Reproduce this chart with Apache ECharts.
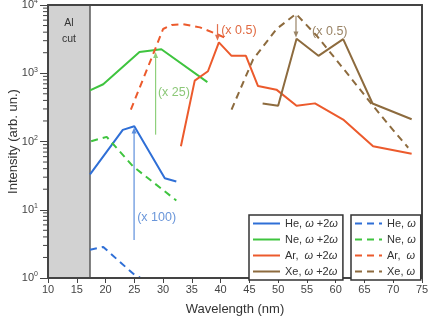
<!DOCTYPE html>
<html><head><meta charset="utf-8">
<script src="https://cdn.jsdelivr.net/npm/echarts@6/dist/echarts.min.js"></script>
<style>html,body{margin:0;padding:0;background:#fff}#c{width:431px;height:326px}</style>
</head><body><div id="c"></div>
<script>
// ---- data ----
const heBothX = [17.3, 23.0, 25.0, 30.3, 32.3];
const heBothY = [33, 148, 167, 29, 26];
const heOmX = [17.3, 19.6, 23.9, 25.1, 26.0];
const heOmY = [2.6, 2.85, 1.35, 1.1, 1.02];
const neBothX = [17.3, 19.6, 25.9, 29.7, 37.7];
const neBothY = [560, 690, 2050, 2250, 740];
const neOmX = [17.5, 20.2, 24.8, 32.3];
const neOmY = [101, 117, 43, 13.7];
const arBothX = [33.1, 35.5, 37.8, 39.7, 41.9, 44.4, 46.5, 49.7, 53.2, 56.4, 61.3, 66.5, 73.2];
const arBothY = [85, 780, 1070, 2830, 1800, 1800, 650, 575, 333, 362, 210, 85, 66];
const arOmX = [24.4, 28.85, 30.0, 31.5, 33.5, 36.4, 39.3, 41.3];
const arOmY = [294, 2520, 4450, 5100, 5240, 4700, 3760, 3160];
const xeBothX = [47.3, 50.0, 53.2, 57.0, 61.3, 66.4, 73.2];
const xeBothY = [360, 333, 3200, 1800, 3160, 360, 212];
const xeOmX = [41.9, 45.65, 49.7, 53.1, 56.7, 61.9, 66.5, 69.4, 72.6];
const xeOmY = [294, 1600, 4440, 7400, 3550, 1020, 333, 168, 81];

const alCut = [10, 17.3];
const xTicks = [10, 15, 20, 25, 30, 35, 40, 45, 50, 55, 60, 65, 70, 75];
const yDecades = [0, 1, 2, 3, 4];

const arrowX = [24.96, 28.7, 39.46, 53.1];
const arrowFrom = [3.6, 126, 5250, 6950];
const arrowTo = [161, 2040, 2990, 3350];
const noteText = ['(x 100)', '(x 25)', '(x 0.5)', '(x 0.5)'];
const noteX = [25.5, 29.1, 40.1, 55.9];
const noteY = [7.6, 525, 4270, 4150];

// ---- styles ----
const FONT = 'Liberation Sans, Arial, sans-serif';
const C = {he:'#2f6fd6', ne:'#3fc43f', ar:'#ec5a2c', xe:'#8d6b3e'};
const arrowColors = ['#5d8fdc', '#8fd07c', '#e2704e', '#9a8466'];
const noteColors = ['#6a96da', '#8cc878', '#e06a42', '#9a8466'];
const dash = [7, 5];

const zip = (xs, ys) => xs.map((x, i) => [x, ys[i]]);
function lineSeries(name, xs, ys, color, dashed) {
  return {
    name, type: 'line', data: zip(xs, ys), symbol: 'none', showSymbol: false, smooth: false,
    lineStyle: {color, width: 2, type: dashed ? dash : 'solid'},
    itemStyle: {color}, z: 3, animation: false
  };
}
const minorVals = [];
yDecades.slice(0, -1).forEach(d => { for (let m = 2; m <= 9; m++) minorVals.push(m * Math.pow(10, d)); });

const chart = echarts.init(document.getElementById('c'), null, {renderer: 'canvas'});
const legendRich = {i: {fontStyle: 'italic', fontSize: 11, fontFamily: FONT, color: '#333'}};
const fmtLegend = n => n.replace(/ω/g, '{i|ω}');
const legendBase = {
  orient: 'vertical', top: 215, itemWidth: 27, itemHeight: 10, itemGap: 5,
  padding: [3, 5, 3, 3], borderColor: '#333', borderWidth: 1.5, backgroundColor: '#fff',
  formatter: fmtLegend, textStyle: {fontSize: 11, color: '#333', fontFamily: FONT, rich: legendRich},
  itemStyle: {opacity: 0}, selectedMode: false, z: 10
};

chart.setOption({
  animation: false,
  textStyle: {fontFamily: FONT},
  grid: {left: 48, right: 9, top: 5, bottom: 48, show: false, containLabel: false, outerBoundsMode: 'none'},
  xAxis: [{
    type: 'value', min: 10, max: 75, interval: 5, z: 5,
    name: 'Wavelength (nm)', nameLocation: 'middle', nameGap: 25, nameMoveOverlap: false,
    nameTextStyle: {fontSize: 13, color: '#333', fontFamily: FONT},
    axisLine: {lineStyle: {color: '#444', width: 2}},
    axisTick: {show: true, length: 5, lineStyle: {color: '#444', width: 1}},
    axisLabel: {fontSize: 11, color: '#444', margin: 6, fontFamily: FONT},
    splitLine: {show: false}
  }, {
    type: 'value', min: 10, max: 75, position: 'top', z: 5,
    axisLine: {show: true, lineStyle: {color: '#444', width: 2}},
    axisTick: {show: false}, axisLabel: {show: false}, splitLine: {show: false}
  }],
  yAxis: [{
    type: 'log', logBase: 10, min: 1, max: 10000, z: 5,
    name: 'Intensity (arb. un.)', nameLocation: 'middle', nameGap: 28, nameMoveOverlap: false,
    nameTextStyle: {fontSize: 13, color: '#333', fontFamily: FONT},
    axisLine: {show: true, lineStyle: {color: '#444', width: 2}},
    axisTick: {show: true, length: 8, lineStyle: {color: '#444', width: 1}},
    axisLabel: {
      fontSize: 11, color: '#444', margin: 10, fontFamily: FONT,
      formatter: v => '10{s|' + Math.round(Math.log10(v)) + '}',
      rich: {s: {fontSize: 7, color: '#444', verticalAlign: 'top', padding: [0, 0, 7, 0], fontFamily: FONT}}
    },
    splitLine: {show: false}
  }, {
    type: 'log', logBase: 10, min: 1, max: 10000, position: 'right', z: 5,
    axisLine: {show: true, lineStyle: {color: '#444', width: 2}},
    axisTick: {show: false}, axisLabel: {show: false}, splitLine: {show: false}
  }],
  legend: [
    Object.assign({}, legendBase, {left: 249, data: ['He, ω +2ω', 'Ne, ω +2ω', 'Ar,  ω +2ω', 'Xe, ω +2ω']}),
    Object.assign({}, legendBase, {left: 351, data: ['He, ω', 'Ne, ω', 'Ar,  ω', 'Xe, ω']})
  ],
  series: [
    {
      type: 'custom', name: 'alcut', z: 1, clip: false, silent: true,
      data: [[alCut[0], alCut[1]]],
      renderItem: (params, api) => {
        const p0 = api.coord([api.value(0), 10000]);
        const p1 = api.coord([api.value(1), 1]);
        return {type: 'group', children: [
          {type: 'rect', shape: {x: p0[0], y: p0[1], width: p1[0] - p0[0], height: p1[1] - p0[1]},
           style: {fill: '#d2d2d2'}},
          {type: 'line', shape: {x1: p1[0], y1: p0[1], x2: p1[0], y2: p1[1]},
           style: {stroke: '#5a5a5a', lineWidth: 1.5}},
          {type: 'text', x: (p0[0] + p1[0]) / 2, y: p0[1] + 10,
           style: {text: 'Al\ncut', fill: '#333', fontSize: 10.5, fontFamily: FONT, align: 'center', verticalAlign: 'top', lineHeight: 16}}
        ]};
      }
    },
    {
      type: 'custom', name: 'minorTicks', z: 6, clip: false, silent: true,
      data: minorVals.map(v => [10, v]),
      renderItem: (params, api) => {
        const p = api.coord([api.value(0), api.value(1)]);
        return {type: 'line', shape: {x1: p[0] - 5, y1: p[1], x2: p[0], y2: p[1]},
                style: {stroke: '#444', lineWidth: 1}};
      }
    },
    lineSeries('He, ω +2ω', heBothX, heBothY, C.he, false),
    lineSeries('Ne, ω +2ω', neBothX, neBothY, C.ne, false),
    lineSeries('Ar,  ω +2ω', arBothX, arBothY, C.ar, false),
    lineSeries('Xe, ω +2ω', xeBothX, xeBothY, C.xe, false),
    lineSeries('He, ω', heOmX, heOmY, C.he, true),
    lineSeries('Ne, ω', neOmX, neOmY, C.ne, true),
    lineSeries('Ar,  ω', arOmX, arOmY, C.ar, true),
    lineSeries('Xe, ω', xeOmX, xeOmY, C.xe, true),
    {
      type: 'custom', name: 'arrows', z: 4, silent: true, clip: false,
      data: arrowX.map((x, i) => [x, arrowFrom[i], arrowTo[i], i]),
      renderItem: (params, api) => {
        const i = api.value(3);
        const a = api.coord([api.value(0), api.value(1)]);
        const b = api.coord([api.value(0), api.value(2)]);
        const dir = b[1] < a[1] ? -1 : 1;
        const col = arrowColors[i];
        return {type: 'group', children: [
          {type: 'line', shape: {x1: a[0], y1: a[1], x2: b[0], y2: b[1] - dir * 3}, style: {stroke: col, lineWidth: 1.2}},
          {type: 'polygon', shape: {points: [[b[0], b[1]], [b[0] - 2.5, b[1] - dir * 6], [b[0] + 2.5, b[1] - dir * 6]]}, style: {fill: col}}
        ]};
      }
    },
    {
      type: 'custom', name: 'notes', z: 4, silent: true, clip: false,
      data: noteX.map((x, i) => [x, noteY[i], i]),
      renderItem: (params, api) => {
        const i = api.value(2);
        const p = api.coord([api.value(0), api.value(1)]);
        return {type: 'text', x: p[0], y: p[1],
                style: {text: noteText[i], fill: noteColors[i], fontSize: 12.5, fontFamily: FONT, align: 'left', verticalAlign: 'middle'}};
      }
    }
  ]
});
</script></body></html>
